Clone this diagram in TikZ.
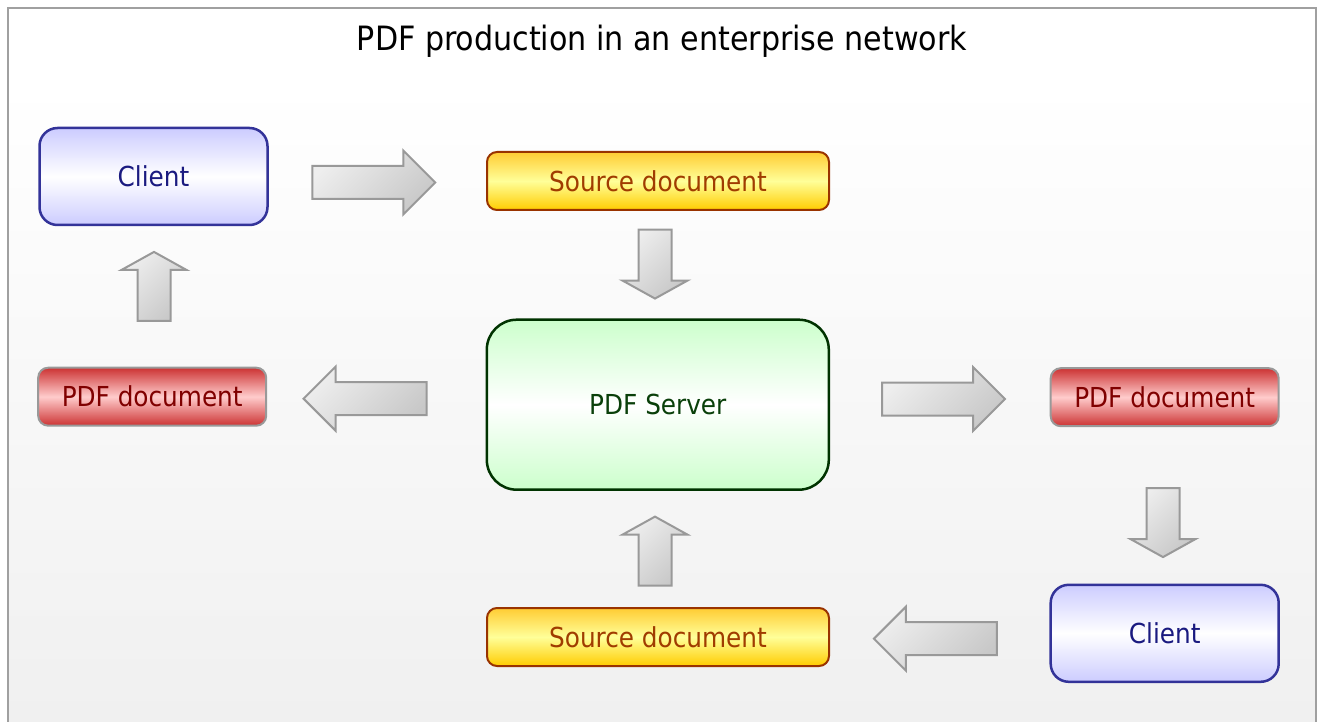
\documentclass[tikz,border=0pt]{standalone}
\usepackage{fontspec}
\setmainfont{DejaVu Sans Condensed}
\usetikzlibrary{shapes.arrows}
\definecolor{rahmen}{HTML}{A0A0A0}
\definecolor{hgunten}{HTML}{F0F0F0}
\definecolor{clientrand}{HTML}{333399}
\definecolor{clientfill}{HTML}{CCCCFF}
\definecolor{clienttext}{HTML}{1A1A80}
\definecolor{quellrand}{HTML}{993300}
\definecolor{quelloben}{HTML}{FFCC33}
\definecolor{quellmitte}{HTML}{FFFF99}
\definecolor{quellunten}{HTML}{FFCC00}
\definecolor{quelltext}{HTML}{A03C00}
\definecolor{pdfrand}{HTML}{999999}
\definecolor{pdffill}{HTML}{CC3333}
\definecolor{pdfmitte}{HTML}{FFCCCC}
\definecolor{pdftext}{HTML}{800000}
\definecolor{serverrand}{HTML}{003300}
\definecolor{serverfill}{HTML}{CCFFCC}
\definecolor{servertext}{HTML}{0A400A}
\definecolor{pfeilhell}{HTML}{EEEEEE}
\definecolor{pfeildunkel}{HTML}{C8C8C8}
\definecolor{pfeilrand}{HTML}{999999}
\tikzstyle{kasten}=[rectangle, inner sep=0pt, font=\fontsize{27.5}{33}\selectfont]
\tikzstyle{client}=[kasten, rounded corners=18pt, minimum width=228pt, minimum height=97pt,
  draw=clientrand, line width=2.5pt, top color=clientfill, bottom color=clientfill,
  middle color=white, text=clienttext]
\tikzstyle{quelle}=[kasten, rounded corners=10pt, minimum width=342pt, minimum height=58pt,
  draw=quellrand, line width=2pt, top color=quelloben, bottom color=quellunten,
  middle color=quellmitte, text=quelltext]
\tikzstyle{pdfdok}=[kasten, rounded corners=10pt, minimum width=228pt, minimum height=58pt,
  draw=pdfrand, line width=2pt, top color=pdffill, bottom color=pdffill,
  middle color=pdfmitte, text=pdftext]
\tikzstyle{server}=[kasten, rounded corners=30pt, minimum width=342pt, minimum height=170pt,
  draw=serverrand, line width=2.5pt, top color=serverfill, bottom color=serverfill,
  middle color=white, text=servertext]
\tikzstyle{pfeil}=[single arrow, inner sep=0pt, text width=31pt, text height=15.5pt,
  text depth=15.5pt, draw=pfeilrand, line width=2pt,
  top color=pfeilhell, bottom color=pfeildunkel, shading angle=45]
\tikzstyle{pfeil waag}=[pfeil, minimum height=123pt,
  single arrow head extend=15.5pt, single arrow tip angle=90]
\tikzstyle{pfeil senk}=[pfeil, minimum height=69pt,
  single arrow head extend=16pt, single arrow tip angle=122]

\begin{document}
\begin{tikzpicture}[x=1pt,y=-1pt]
			% Hintergrund und Rahmen zeichnen
			\useasboundingbox (0,0) rectangle (1318,722);
			\fill[white] (0,0) rectangle (1318,722);
			\shade[top color=white, bottom color=hgunten] (8,81) rectangle (1316,722);
			\draw[rahmen, line width=2.5pt] (8,722) -- (8,8) -- (1316,8) -- (1316,722);
			% Titel
			\node[font=\fontsize{33.5}{40}\selectfont, anchor=base] (titel) at (662,51)
				{PDF production in an enterprise network};
			% Kaesten zeichnen
			\node[client] (client1) at (153.5,176.5) {Client};
			\node[quelle] (quelle1) at (658,181) {Source document};
			\node[pdfdok] (pdf1) at (152.2,396.7) {PDF document};
			\node[server] (server) at (657.8,404.7) {PDF Server};
			\node[pdfdok] (pdf2) at (1164.7,397.2) {PDF document};
			\node[client] (client2) at (1164.7,633.3) {Client};
			\node[quelle] (quelle2) at (658,637) {Source document};
			% Pfeile zeichnen
			\node[pfeil waag, shape border rotate=0] (p1) at (365.5,182.5) {};
			\node[pfeil senk, shape border rotate=270] (p2) at (655,259.5) {};
			\node[pfeil waag, shape border rotate=0] (p3) at (935.3,399) {};
			\node[pfeil senk, shape border rotate=270] (p4) at (1163,518) {};
			\node[pfeil waag, shape border rotate=180] (p5) at (943.7,638.7) {};
			\node[pfeil senk, shape border rotate=90] (p6) at (655,555.7) {};
			\node[pfeil waag, shape border rotate=180] (p7) at (373.3,398.7) {};
			\node[pfeil senk, shape border rotate=90] (p8) at (154,291) {};
		\end{tikzpicture}
\end{document}
